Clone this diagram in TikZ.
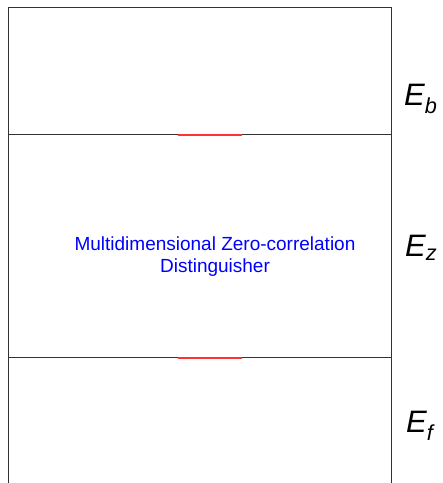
\documentclass[tikz,border=0pt]{standalone}
\usepackage{fontspec}
\setmainfont{Liberation Sans}
\usetikzlibrary{positioning}

\begin{document}
\begin{tikzpicture}[x=1pt, y=1pt]
  % Styles
  \tikzstyle{frame} = [draw=black!80, line width=1pt]
  \tikzstyle{cut} = [draw=red!80, line width=1.2pt]
  \tikzstyle{part} = [font=\fontsize{31}{33}\selectfont\itshape, inner sep=0pt, anchor=base west]
  \tikzstyle{core} = [text=blue, align=center, font=\fontsize{19}{22}\selectfont]

  \useasboundingbox (0,0) rectangle (443,483);

  % Frame
  \coordinate (bl) at (8,0);
  \coordinate (tl) at (8,475);
  \coordinate (tr) at (391,475);
  \coordinate (br) at (391,0);
  \coordinate (ul) at (8,348);
  \coordinate (ur) at (391,348);
  \coordinate (ll) at (8,125);
  \coordinate (lr) at (391,125);
  \coordinate (ua) at (178,348);
  \coordinate (ub) at (242,348);
  \coordinate (la) at (178,125);
  \coordinate (lb) at (242,125);

  \path[frame] (bl) -- (tl) -- (tr) -- (br);
  \path[frame] (ul) -- (ur);
  \path[frame] (ll) -- (lr);
  \path[cut] (ua) -- (ub);
  \path[cut] (la) -- (lb);

  % Nodes
  \node[core] (dist) at (215,226) {Multidimensional Zero-correlation\\Distinguisher};
  \node[part] (eb) at (404,377) {E\textsubscript{b}};
  \node[part] (ez) at (405,226) {E\textsubscript{z}};
  \node[part] (ef) at (406,50) {E\textsubscript{f}};

\end{tikzpicture}
\end{document}
